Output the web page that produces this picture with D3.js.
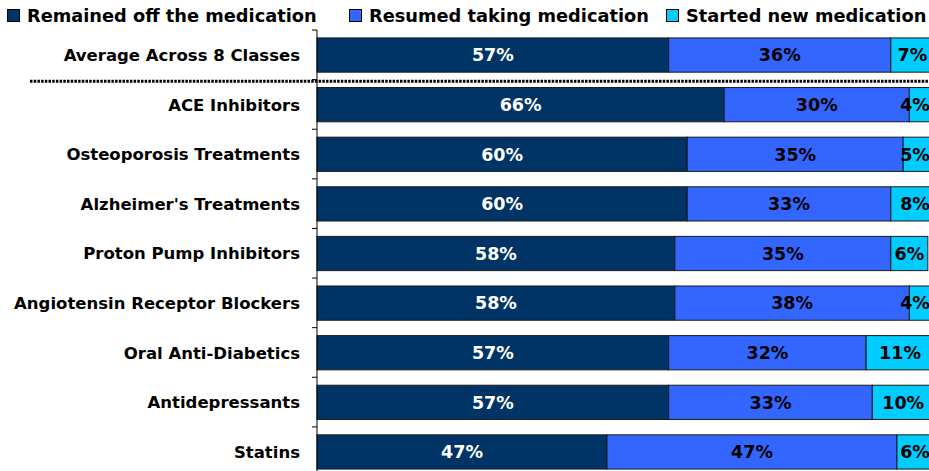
<!DOCTYPE html>
<html>
<head>
<meta charset="utf-8">
<script src="https://cdn.jsdelivr.net/npm/d3@7"></script>
<style>
  body { margin: 0; background: #fff; }
  svg { display: block; font-family: "DejaVu Sans", Verdana, sans-serif; font-weight: bold; }
</style>
</head>
<body>
<div id="chart"></div>
<script>
const categories = ['Average Across 8 Classes', 'ACE Inhibitors', 'Osteoporosis Treatments', "Alzheimer's Treatments",
  'Proton Pump Inhibitors', 'Angiotensin Receptor Blockers', 'Oral Anti-Diabetics', 'Antidepressants', 'Statins'];
const remainedOff = [57, 66, 60, 60, 58, 58, 57, 57, 47];
const resumed = [36, 30, 35, 33, 35, 38, 32, 33, 47];
const startedNew = [7, 4, 5, 8, 6, 4, 11, 10, 6];
const seriesNames = ['Remained off the medication', 'Resumed taking medication', 'Started new medication'];
const colors = ['#003366', '#3366ff', '#00ccff'];
const labelColors = ['#fff', '#000', '#000'];

const width = 929, height = 471;
const svg = d3.select('#chart').append('svg').attr('width', width).attr('height', height);

const x = d3.scaleLinear().domain([0, 100]).range([317, 317 + 617]);
const y = d3.scaleBand().domain(categories).range([30, 477]).paddingInner(0.31).paddingOuter(0.16);

const rows = categories.map((c, i) => ({cat: c, vals: [remainedOff[i], resumed[i], startedNew[i]]}));
const segs = rows.flatMap(r => {
  let acc = 0;
  return r.vals.map((v, k) => { const s = {cat: r.cat, k, v, x0: acc, x1: acc + v}; acc += v; return s; });
});

// bars
svg.append('g').selectAll('rect').data(segs).join('rect')
  .attr('x', d => x(d.x0)).attr('y', d => y(d.cat))
  .attr('width', d => x(d.x1) - x(d.x0)).attr('height', y.bandwidth())
  .attr('fill', d => colors[d.k]).attr('stroke', '#1a1a1a').attr('stroke-width', 1);

svg.append('g').selectAll('text').data(segs).join('text')
  .attr('x', d => Math.min((x(d.x0) + x(d.x1)) / 2, width - (d.v >= 10 ? 20 : 14)))
  .attr('y', d => y(d.cat) + y.bandwidth() / 2)
  .attr('dy', '0.36em').attr('text-anchor', 'middle')
  .style('font-size', '17.5px').attr('fill', d => labelColors[d.k])
  .text(d => d.v + '%');

// axis
const step = y.step();
const ticks = d3.range(categories.length + 1).map(i => 30 + i * step);
const axis = svg.append('g');
axis.append('line').attr('x1', x(0)).attr('x2', x(0)).attr('y1', 30).attr('y2', height).attr('stroke', '#000');
axis.selectAll('.tick').data(ticks).join('line').attr('class', 'tick')
  .attr('x1', x(0) - 5).attr('x2', x(0)).attr('y1', d => d).attr('y2', d => d).attr('stroke', '#000');

svg.append('g').selectAll('text').data(categories).join('text')
  .attr('x', 300).attr('y', d => y(d) + y.bandwidth() / 2).attr('dy', '0.36em')
  .attr('text-anchor', 'end').style('font-size', '16.5px').attr('fill', '#000')
  .text(d => d);

// separator between average and classes
const sepY = y(categories[1]) - step * y.paddingInner() / 2 + 1.5;
svg.append('line').attr('x1', 30).attr('x2', width).attr('y1', sepY).attr('y2', sepY)
  .attr('stroke', '#000').attr('stroke-width', 3).attr('stroke-dasharray', '2.5,1.2');

// legend
const legendX = [7, 349, 666];
const legend = svg.append('g').selectAll('g').data(seriesNames).join('g')
  .attr('transform', (d, i) => `translate(${legendX[i]},9)`);
legend.append('rect').attr('x', 0.5).attr('y', 0.5).attr('width', 12).attr('height', 12)
  .attr('fill', (d, i) => colors[i]).attr('stroke', '#000');
legend.append('text').attr('x', 20).attr('y', 7).attr('dy', '0.36em')
  .style('font-size', '17.8px').attr('fill', '#000').text(d => d);
</script>
</body>
</html>
